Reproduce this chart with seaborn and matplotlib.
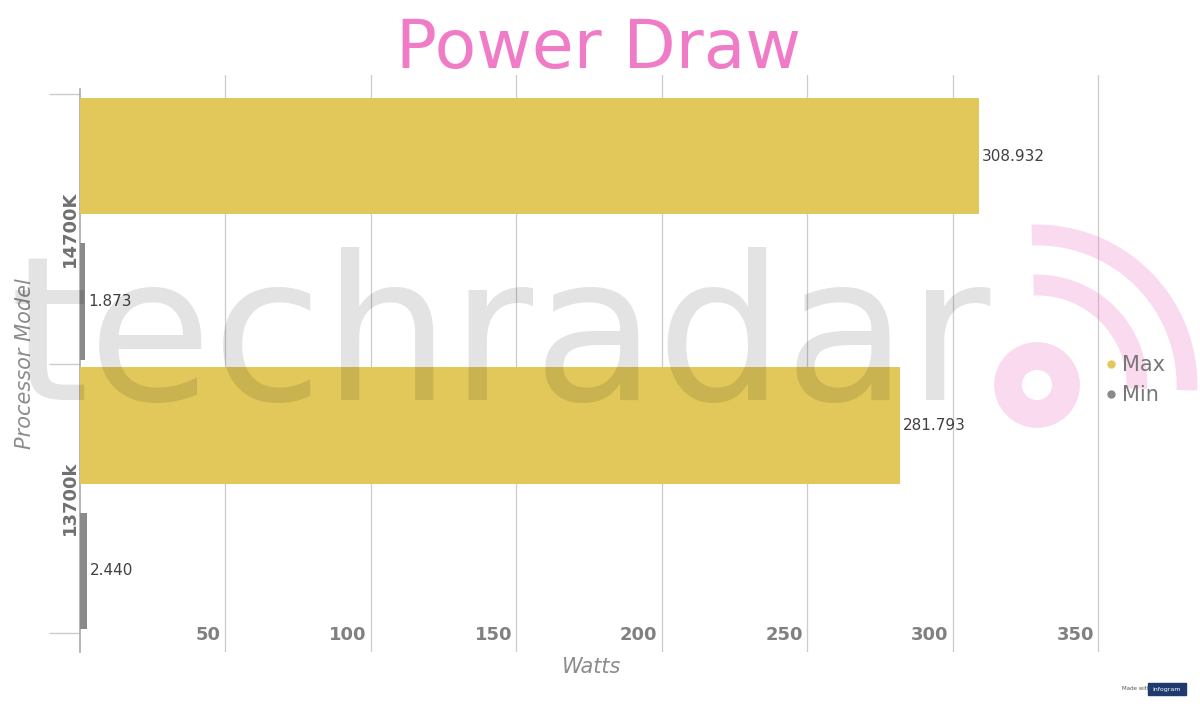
import pandas as pd
import matplotlib.pyplot as plt
import seaborn as sns
from matplotlib.lines import Line2D
from matplotlib.patches import Arc, Circle, Rectangle

# chart data
processors = ["14700K", "13700k"]
max_watts = [308.932, 281.793]
min_watts = [1.873, 2.440]
series = ["Max", "Min"]
x_ticks = [50, 100, 150, 200, 250, 300, 350]

GOLD = "#E2C85A"
GREY = "#8A8A8A"
PINK = "#F07CC8"

df = pd.DataFrame({
    "Processor": processors * 2,
    "Watts": max_watts + min_watts,
    "Series": ["Max"] * len(processors) + ["Min"] * len(processors),
})

sns.set_theme(style="white")
plt.rcParams["font.family"] = ["DejaVu Sans"]

fig = plt.figure(figsize=(12, 7.04), dpi=100)
ax = fig.add_axes([80 / 1200, 1 - 652 / 704, 1030 / 1200, 577 / 704])

sns.barplot(data=df, y="Processor", x="Watts", hue="Series", orient="h",
            palette=[GOLD, GREY], width=1.08, gap=0.2, saturation=1,
            ax=ax, legend=False, zorder=3, linewidth=0)

ax.set_xlim(0, 354)
ax.set_ylim(1.572, -0.572)

# value labels
for cont in ax.containers:
    ax.bar_label(cont, fmt="%.3f", padding=2, fontsize=11, color="#404040")

# grid and axes styling
for s in ["top", "right", "bottom"]:
    ax.spines[s].set_visible(False)
ax.spines["left"].set_color("#AAAAAA")
ax.spines["left"].set_linewidth(1.2)
ax.spines["left"].set_bounds(-0.52, 1.572)
for t in x_ticks:
    ax.axvline(t, color="#CCCCCC", lw=0.9, zorder=1)
ax.set_xticks([])
for t in x_ticks:
    ax.text(t - 1.5, 0.03, str(t), transform=ax.get_xaxis_transform(),
            ha="right", va="center", fontsize=13, fontweight="bold",
            color="#808080")

ax.set_yticks([0, 1])
ax.set_yticklabels(processors, rotation=90, va="center", fontsize=13,
                   fontweight="bold", color="#707070")
ax.set_yticks([-0.5, 0.5, 1.5], minor=True)
ax.tick_params(axis="y", which="major", length=0, pad=1)
ax.tick_params(axis="y", which="minor", length=22, color="#CCCCCC", width=1, left=True)

ax.set_ylabel("Processor Model", fontsize=15, fontstyle="italic",
              color="#8C8C8C")
ax.yaxis.set_label_coords(-45 / 1030, 0.5)
ax.set_xlabel("")
fig.text(592 / 1200, 1 - 667 / 704, "Watts", ha="center", va="center",
         fontsize=15, fontstyle="italic", color="#8C8C8C")

fig.text(598 / 1200, 1 - 68 / 704, "Power Draw", ha="center", va="baseline",
         fontsize=49, color=PINK)

# legend
handles = [Line2D([], [], marker="o", ls="", color=GOLD, markersize=5),
           Line2D([], [], marker="o", ls="", color=GREY, markersize=5)]
fig.legend(handles, series, loc="center left",
           bbox_to_anchor=(1084 / 1200, 1 - 380 / 704), frameon=False,
           fontsize=15, labelcolor="#777777", handletextpad=0.1,
           handlelength=0.8, labelspacing=0.5)

# faint techradar watermark
wm = fig.add_axes([0, 0, 1, 1], zorder=5)
wm.set_xlim(0, 1200)
wm.set_ylim(704, 0)
wm.axis("off")
wm.text(10, 400, "techradar", fontsize=145, color="#000000", alpha=0.11,
        va="baseline", ha="left")
wm.add_patch(Circle((1037, 385), 29, fill=False, lw=20, ec=PINK, alpha=0.28))
for r in (200, 300):
    wm.add_patch(Arc((1037, 385), r, r, theta1=268, theta2=362, lw=15,
                     ec=PINK, alpha=0.28))

# infogram badge
wm.text(1122, 689, "Made with", fontsize=4, color="#555555", ha="left", va="center")
wm.add_patch(Rectangle((1148, 683), 38, 12, color="#1E3A6E"))
wm.text(1167, 689, "infogram", fontsize=4.5, color="white", ha="center", va="center")

fig.savefig("out.png", dpi=100)
